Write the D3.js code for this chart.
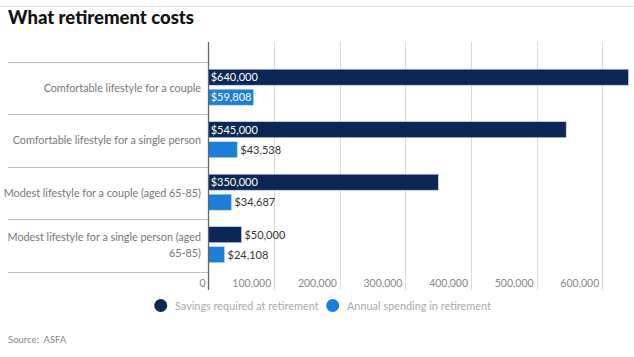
<!DOCTYPE html>
<html><head><meta charset="utf-8">
<script src="https://cdn.jsdelivr.net/npm/d3@7"></script>
<style>body{margin:0;background:#fff;}svg{display:block;font-family:"Lato","Open Sans",sans-serif;}</style>
</head><body><svg id="c" width="634" height="357"></svg>
<script>
const categories = [
  "Comfortable lifestyle for a couple",
  "Comfortable lifestyle for a single person",
  "Modest lifestyle for a couple (aged 65-85)",
  "Modest lifestyle for a single person (aged 65-85)"
];
const savings = [640000, 545000, 350000, 50000];
const spending = [59808, 43538, 34687, 24108];
const seriesNames = ["Savings required at retirement", "Annual spending in retirement"];
const colors = ["#0a2756", "#1a7fd6"];
const xTicks = [0, 100000, 200000, 300000, 400000, 500000, 600000];

const svg = d3.select("#c");
const W = 634;
const x = d3.scaleLinear().domain([0, 640000]).range([208.7, 628.5]);
const y = d3.scaleBand().domain(categories).range([61.7, 271.7]);
const inner = d3.scaleBand().domain([0, 1]).range([7.5, 43.5]).paddingInner(0.2);

// top rule
svg.append("line").attr("x1", 0).attr("x2", W).attr("y1", 6.5).attr("y2", 6.5).attr("stroke", "#e3e3e3");
svg.append("text").attr("x", 8).attr("y", 24).attr("font-size", 18.5).attr("font-weight", 900)
  .attr("fill", "#111").text("What retirement costs");

const g = svg.append("g");
// grid
xTicks.forEach(t => {
  if (t === 0) return;
  g.append("line").attr("x1", Math.round(x(t)) + 0.5).attr("x2", Math.round(x(t)) + 0.5)
    .attr("y1", 42).attr("y2", 290).attr("stroke", "#dcdcdc");
});
// tick labels
xTicks.forEach(t => {
  g.append("text").attr("x", x(t) - 3).attr("y", 287).attr("text-anchor", "end")
    .attr("font-size", 10.5).attr("fill", "#888").text(d3.format(",")(t));
});

// category separators
const seps = categories.map(c => y(c)).concat([y.range()[1]]);
seps.forEach(s => {
  g.append("line").attr("x1", 8).attr("x2", 208).attr("y1", Math.round(s) + 0.5).attr("y2", Math.round(s) + 0.5)
    .attr("stroke", "#bdbdbd");
});

// category labels
categories.forEach(c => {
  const cy = y(c) + y.bandwidth() / 2;
  let lines = [c];
  if (c.length > 45) {
    const i = c.lastIndexOf(" ");
    lines = [c.slice(0, i), c.slice(i + 1)];
  }
  const t = g.append("text").attr("text-anchor", "end").attr("font-size", 10.8).attr("fill", "#777");
  lines.forEach((l, k) => {
    t.append("tspan").attr("x", 201).attr("y", cy + 4 + (k - (lines.length - 1) / 2) * 16).text(l);
  });
});

// bars
const data = [savings, spending];
data.forEach((vals, si) => {
  vals.forEach((v, i) => {
    const by = y(categories[i]) + inner(si);
    const bw = x(v) - x(0);
    const rect = g.append("rect").attr("x", x(0)).attr("y", by).attr("width", bw).attr("height", inner.bandwidth())
      .attr("fill", colors[si]).attr("stroke", "#c8d4e6").attr("stroke-width", 0.6);
    const label = "$" + d3.format(",")(v);
    const inside = bw > 35;
    const txt = g.append("text").attr("x", inside ? x(0) + 2 : x(v) + 3).attr("y", by + inner.bandwidth() / 2 + 4)
      .attr("font-size", 11).attr("fill", inside ? "#fff" : "#333").text(label);
    if (inside) {
      const tw = txt.node().getComputedTextLength();
      if (tw + 4 > bw) rect.attr("width", tw + 4);
    }
  });
});

// axis line
g.append("line").attr("x1", 208.5).attr("x2", 208.5).attr("y1", 42).attr("y2", 290).attr("stroke", "#666").attr("stroke-width", 1.3);

// legend
const leg = [[160.7, 175], [332.7, 347]];
seriesNames.forEach((n, i) => {
  svg.append("circle").attr("cx", leg[i][0]).attr("cy", 305.5).attr("r", 6.5).attr("fill", colors[i]);
  svg.append("text").attr("x", leg[i][1]).attr("y", 309.5).attr("font-size", 10.9).attr("fill", "#aaa").text(n);
});

svg.append("text").attr("x", 8).attr("y", 343).attr("font-size", 9.5).attr("fill", "#888").attr("xml:space", "preserve").text("Source:  ASFA");
</script></body></html>
